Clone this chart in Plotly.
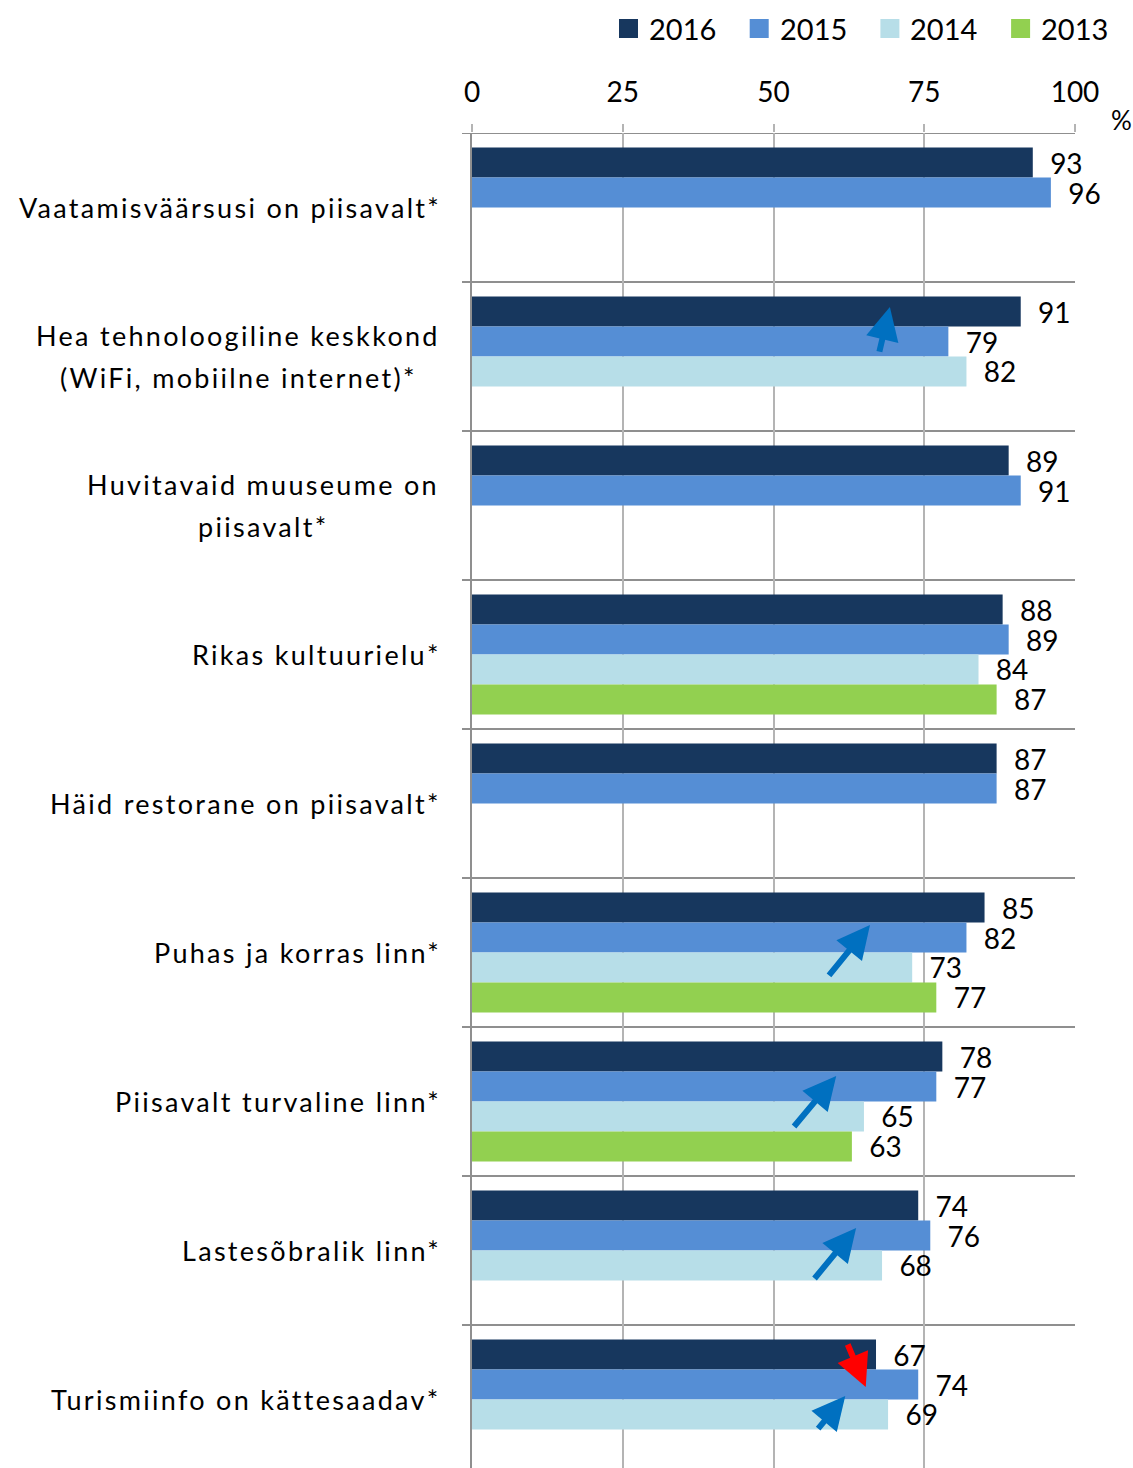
import plotly.graph_objects as go

# Survey statements (top to bottom) and the share of agreeing respondents, %
categories = [
    "Vaatamisväärsusi on piisavalt*",
    "Hea tehnoloogiline keskkond<br>(WiFi, mobiilne internet)*",
    "Huvitavaid muuseume on<br>piisavalt*",
    "Rikas kultuurielu*",
    "Häid restorane on piisavalt*",
    "Puhas ja korras linn*",
    "Piisavalt turvaline linn*",
    "Lastesõbralik linn*",
    "Turismiinfo on kättesaadav*",
]
years = ["2016", "2015", "2014", "2013"]
v2016 = [93, 91, 89, 88, 87, 85, 78, 74, 67]
v2015 = [96, 79, 91, 89, 87, 82, 77, 76, 74]
v2014 = [None, 82, None, 84, None, 73, 65, 68, 69]
v2013 = [None, None, None, 87, None, 77, 63, None, None]
series = [v2016, v2015, v2014, v2013]
colors = ["#17375E", "#558ED5", "#B7DEE8", "#92D050"]
x_ticks = [0, 25, 50, 75, 100]

# Trend arrows: (tail x, tail y, head x, head y, colour) in axis units
trend_arrows = [
    (67.5, 0.977, 69.3, 0.668, "#0070C0"),
    (59.0, 5.164, 66.0, 4.815, "#0070C0"),
    (53.2, 6.178, 60.4, 5.829, "#0070C0"),
    (56.6, 7.198, 63.7, 6.849, "#0070C0"),
    (57.2, 8.205, 61.9, 7.977, "#0070C0"),
    (62.2, 7.621, 65.3, 7.916, "#FF0000"),
]

FONT = "Lato"
W, H = 1133, 1468
ML, MR, MT, MB = 472, 58, 133, 0
PW, PH = W - ML - MR, H - MT - MB
BAND = 149.0
GRID = "#b4b4b4"
AXIS = "#8f8f8f"
CAT_SIZE = 27
CAT_SPACING = "2.3px"
LABEL_RIGHT = 443          # right edge of the category label column, px
LINE_H = 42                # distance between wrapped label lines, px
# horizontal centre (px) of the wrapped, two-line label blocks
WRAPPED_CENTRE = {1: 238, 2: 263}


def px_x(px):
    return (px - ML) / PW


def px_y(py):
    return 1 - (py - MT) / PH


def spaced(txt):
    return f'<span style="letter-spacing:{CAT_SPACING}">{txt}</span>'


fig = go.Figure()
for name, vals, col in zip(years, series, colors):
    fig.add_trace(go.Bar(
        y=categories,
        x=vals,
        orientation="h",
        name=name,
        marker=dict(color=col, line=dict(width=0)),
        text=["\u00a0\u00a0" + str(v) if v is not None else "" for v in vals],
        textposition="outside",
        constraintext="none",
        cliponaxis=False,
        textfont=dict(family=FONT, size=28, color="#000000"),
        showlegend=False,
    ))

shapes = []
annotations = []

# category separators with short outside ticks
for i in range(len(categories) + 1):
    shapes.append(dict(type="line", xref="paper", yref="y",
                       x0=px_x(ML - 10), x1=1, y0=i - 0.5, y1=i - 0.5,
                       line=dict(color=AXIS, width=2), layer="below"))

# category labels; wrapped ones have their lines centred on each other
for i, cat in enumerate(categories):
    lines = cat.split("<br>")
    n = len(lines)
    for k, line in enumerate(lines):
        if n == 1:
            xpos, anchor = LABEL_RIGHT, "right"
        else:
            xpos, anchor = WRAPPED_CENTRE[i], "center"
        annotations.append(dict(
            x=px_x(xpos), xref="paper", y=i, yref="y",
            text=spaced(line), showarrow=False, xanchor=anchor,
            yanchor="middle",
            yshift=-((k - (n - 1) / 2) * LINE_H),
            font=dict(family=FONT, size=CAT_SIZE, color="#000000"),
        ))

# legend drawn as swatches with year labels
for j, (name, col) in enumerate(zip(years, colors)):
    x0 = 619 + j * 130.7
    shapes.append(dict(type="rect", xref="paper", yref="paper",
                       x0=px_x(x0), x1=px_x(x0 + 19),
                       y0=px_y(38), y1=px_y(19),
                       fillcolor=col, line=dict(width=0)))
    annotations.append(dict(
        x=px_x(x0 + 28), xref="paper", y=px_y(29), yref="paper",
        text=name, showarrow=False, xanchor="left", yanchor="middle",
        font=dict(family=FONT, size=29, color="#000000"),
    ))

# unit label
annotations.append(dict(
    x=px_x(1121), xref="paper", y=px_y(120), yref="paper",
    text="%", showarrow=False, xanchor="center", yanchor="middle",
    font=dict(family=FONT, size=26, color="#000000"),
))

# trend arrows
for tx, ty, hx, hy, col in trend_arrows:
    annotations.append(dict(
        x=hx, y=hy, xref="x", yref="y",
        ax=tx, ay=ty, axref="x", ayref="y",
        showarrow=True, arrowhead=2, arrowsize=1.1, arrowwidth=6,
        arrowcolor=col, text="",
    ))

fig.update_layout(
    width=W, height=H,
    margin=dict(l=ML, r=MR, t=MT, b=MB, pad=0),
    autosize=False,
    paper_bgcolor="white", plot_bgcolor="white",
    barmode="group", bargap=0.195, bargroupgap=0,
    font=dict(family=FONT, color="#000000"),
    shapes=shapes, annotations=annotations,
    xaxis=dict(
        side="top", range=[0, 100], tickvals=x_ticks,
        ticktext=[str(t) for t in x_ticks],
        showgrid=True, gridcolor=GRID, gridwidth=2,
        zeroline=False, showline=False,
        ticks="outside", ticklen=8, tickwidth=2, tickcolor=GRID,
        ticklabelstandoff=11,
        tickfont=dict(family=FONT, size=28, color="#000000"),
        fixedrange=True,
    ),
    yaxis=dict(
        type="category", categoryorder="array", categoryarray=categories,
        range=[len(categories) - 1 + 0.5 - (len(categories) * BAND - PH) / BAND, -0.5],
        showticklabels=False, showgrid=False, zeroline=False,
        showline=True, linecolor=AXIS, linewidth=2, ticks="",
        fixedrange=True,
    ),
)

fig.write_html("out.html")
